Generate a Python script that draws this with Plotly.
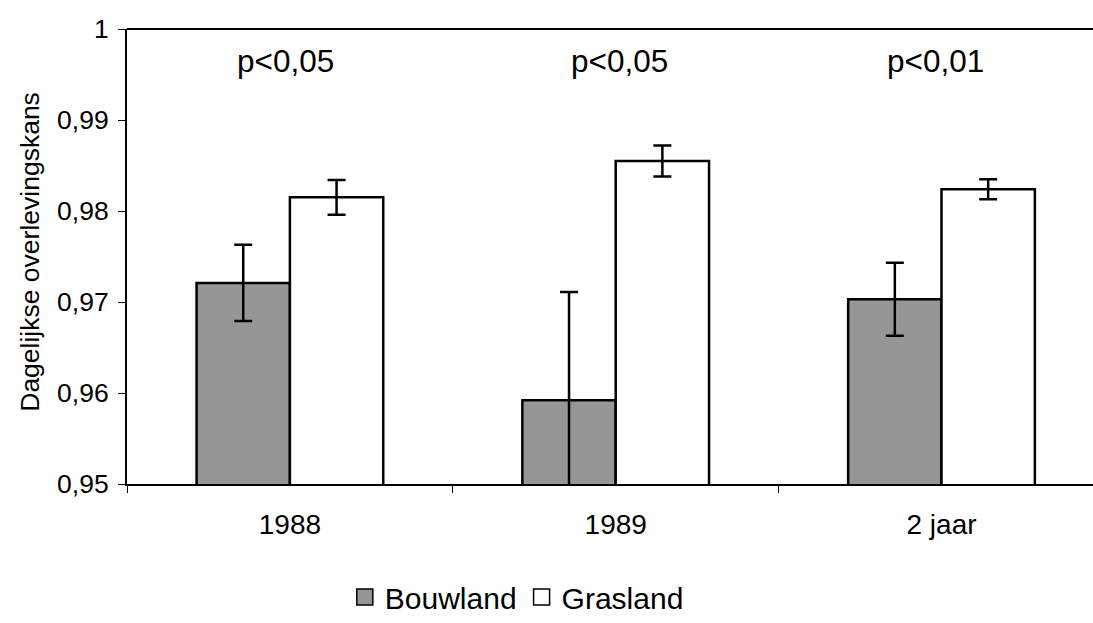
import plotly.graph_objects as go

categories = ["1988", "1989", "2 jaar"]
bouwland = [0.9721, 0.9592, 0.9703]
bouwland_err = [0.0042, 0.0119, 0.0040]
grasland = [0.9815, 0.9855, 0.9824]
grasland_err = [0.0019, 0.0017, 0.0011]
p_labels = ["p<0,05", "p<0,05", "p<0,01"]
y_tick_vals = [0.95, 0.96, 0.97, 0.98, 0.99, 1.0]
y_tick_labels = ["0,95", "0,96", "0,97", "0,98", "0,99", "1"]

W, H = 1093, 623
ml, mt = 127.3, 29.3
y_bottom = 493.7
mb = H - y_bottom
plot_w = W - ml
plot_h = y_bottom - mt
cat_w = (1104.4 - ml) / 3

GREY = "#969696"
fig = go.Figure()
fig.add_trace(go.Bar(
    name="Bouwland", x=categories, y=bouwland, showlegend=False,
    marker=dict(color=GREY, line=dict(color="black", width=2.5)),
    error_y=dict(type="data", array=bouwland_err, color="black", thickness=2.5, width=9),
))
fig.add_trace(go.Bar(
    name="Grasland", x=categories, y=grasland, showlegend=False,
    marker=dict(color="white", line=dict(color="black", width=2.5)),
    error_y=dict(type="data", array=grasland_err, color="black", thickness=2.5, width=9),
))
# legend entries (larger square symbols, as in the original legend)
for name, col in [("Bouwland", GREY), ("Grasland", "white")]:
    fig.add_trace(go.Scatter(
        name=name, x=[None], y=[None], mode="markers", hoverinfo="skip",
        marker=dict(symbol="square", size=18, color=col, line=dict(color="black", width=1.5)),
    ))

p_shift = [-4, 4, -6]
for i, (t, dx) in enumerate(zip(p_labels, p_shift)):
    fig.add_annotation(x=i, y=0.9965, text=t, showarrow=False, xshift=dx,
                       font=dict(size=31.5, color="black", family="Arial, Liberation Sans"),
                       xanchor="center", yanchor="middle")

fig.add_annotation(xref="paper", yref="paper", x=(30 - ml) / plot_w, y=(y_bottom - 257) / plot_h,
                   text="Dagelijkse overlevingskans", textangle=-90, showarrow=False,
                   font=dict(size=26.5, color="black", family="Arial, Liberation Sans"),
                   xanchor="center", yanchor="middle")

# top frame line of the plot area
fig.add_shape(type="line", xref="paper", yref="paper", x0=0, x1=1, y0=1, y1=1,
              line=dict(color="black", width=2))

x_right = 2.5 - (1104.4 - W) / cat_w

fig.update_layout(
    width=W, height=H,
    margin=dict(l=ml, r=0, t=mt, b=mb, pad=0),
    paper_bgcolor="white", plot_bgcolor="white",
    barmode="group", bargap=0.427, bargroupgap=0,
    font=dict(family="Arial, Liberation Sans", color="black", size=25),
    showlegend=True,
    legend=dict(orientation="h", x=(517 - ml) / plot_w, y=(y_bottom - 609) / plot_h,
                xanchor="center", yanchor="middle", font=dict(size=30),
                itemwidth=30, itemsizing="trace", tracegroupgap=0, bgcolor="rgba(0,0,0,0)"),
    xaxis=dict(type="category", range=[-0.5, x_right], showline=True, mirror=False,
               linecolor="black", linewidth=2,
               ticks="outside", tickson="boundaries", ticklen=7, tickcolor="black", tickwidth=1,
               showgrid=False, zeroline=False, tickfont=dict(size=28), ticklabelstandoff=14),
    yaxis=dict(range=[0.95, 1.0], showline=True, mirror=False, linecolor="black", linewidth=2,
               ticks="outside", ticklen=7, tickcolor="black", tickwidth=1,
               tickvals=y_tick_vals, ticktext=y_tick_labels,
               showgrid=False, zeroline=False, tickfont=dict(size=26.5), ticklabelstandoff=4),
)

css_fix = (
    "document.body.style.margin='0';"
    "document.body.style.overflow='hidden';"
)
fig.write_html("out.html", config={"displayModeBar": False}, post_script=css_fix)
